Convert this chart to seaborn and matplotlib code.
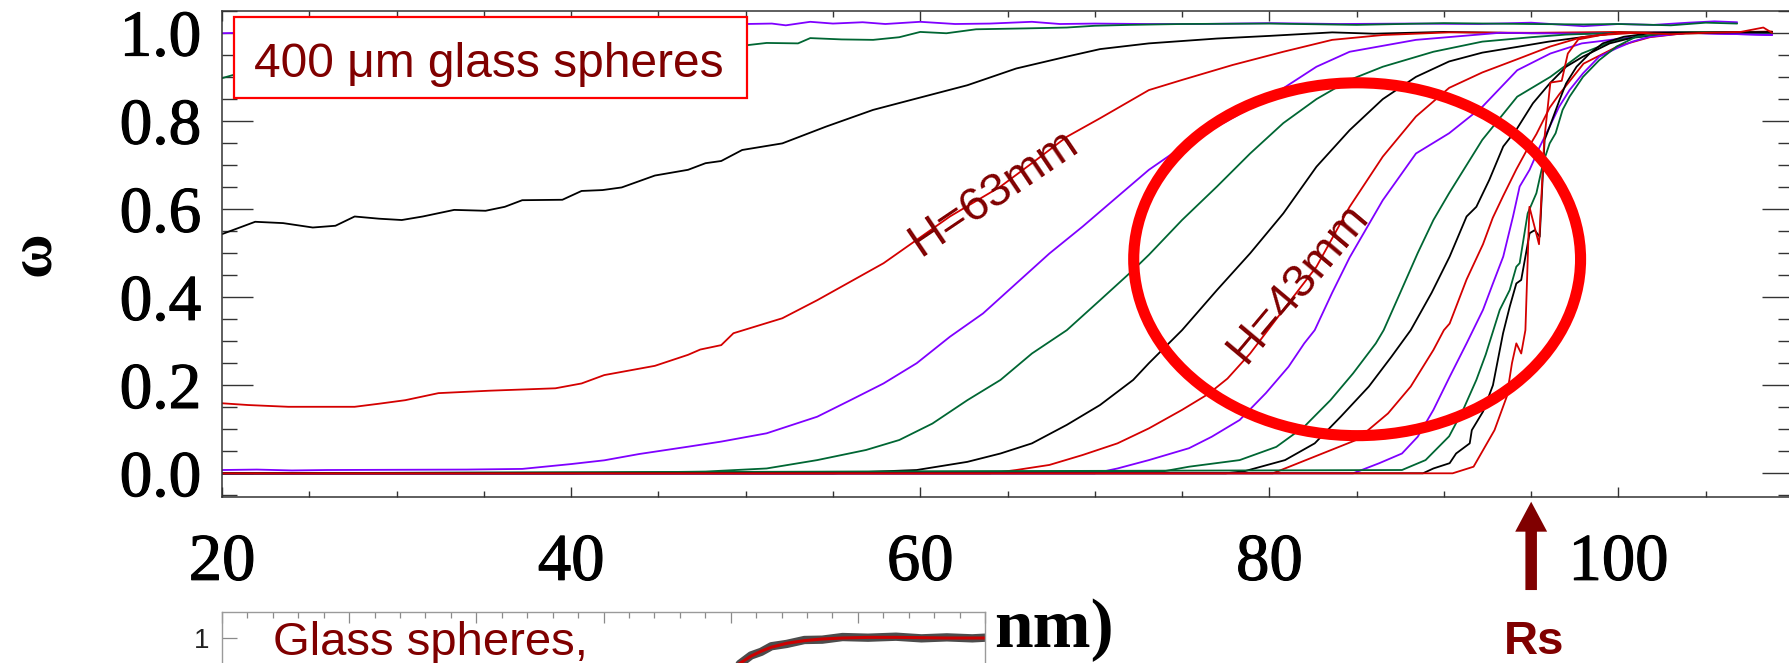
import matplotlib
matplotlib.use("Agg")
import matplotlib.pyplot as plt
import matplotlib.patheffects as pe
import pandas as pd
import seaborn as sns
from matplotlib.patches import Ellipse, Rectangle
from matplotlib.ticker import FixedLocator, MultipleLocator, FormatStrFormatter

# ------------------------------------------------------------------
# Profiles omega(r) for successive fill heights (r in nm-scale units)
# ------------------------------------------------------------------
curve_01_r = [20, 21, 25, 30, 35, 40, 45, 50, 51.5, 52.3, 53.7, 55, 56.7, 58, 60, 62, 64, 66.4, 68, 70,
              73, 76, 80, 84, 88, 92, 95, 98, 100, 102, 104, 105.5, 106.8]
curve_01_w = [0.999, 1.0, 1.005, 1.01, 1.013, 1.016, 1.018, 1.02, 1.021, 1.017, 1.025, 1.021, 1.024, 1.02,
              1.025, 1.02, 1.021, 1.025, 1.02, 1.021, 1.02, 1.02, 1.022, 1.02, 1.021, 1.02, 1.023, 1.015,
              1.02, 1.018, 1.023, 1.026, 1.024]

curve_02_r = [20, 20.7, 25, 30, 35, 40, 45, 50.1, 51.2, 53, 53.7, 55.5, 57.3, 58.8, 60, 61.5, 63.2, 66,
              68.4, 70, 72, 75, 80, 85, 90, 95, 98, 100, 103, 105, 106.8]
curve_02_w = [0.897, 0.905, 0.925, 0.94, 0.95, 0.958, 0.965, 0.972, 0.977, 0.976, 0.988, 0.985, 0.984,
              0.99, 1.002, 0.999, 1.008, 1.01, 1.012, 1.016, 1.018, 1.02, 1.021, 1.018, 1.022, 1.02,
              1.019, 1.02, 1.017, 1.023, 1.021]

curve_03_r = [20, 21.9, 23.5, 25.2, 26.5, 27.6, 29, 30.3, 31.5, 33.3, 35.1, 36.2, 37.2, 39.5, 40.6, 41.8,
              42.9, 44.8, 46.7, 47.7, 48.6, 49.8, 52.1, 54.6, 57.3, 59.8, 62.7, 65.5, 68.4, 70.3, 73.1,
              77.0, 80, 83.6, 86, 90, 95, 100, 104, 108.8]
curve_03_w = [0.543, 0.571, 0.568, 0.558, 0.562, 0.583, 0.578, 0.575, 0.583, 0.598, 0.596, 0.605, 0.620,
              0.621, 0.641, 0.643, 0.649, 0.676, 0.689, 0.704, 0.709, 0.734, 0.749, 0.787, 0.825, 0.851,
              0.881, 0.919, 0.946, 0.963, 0.976, 0.987, 0.993, 1.001, 0.998, 1.002, 0.999, 1.0, 1.001, 1.0]

curve_04_r = [20, 21.5, 23.8, 27.6, 29, 30.5, 32.4, 35.3, 39.1, 40.6, 41.9, 44.8, 46.7, 47.4, 48.6, 49.3,
              52.1, 54.1, 56.0, 57.9, 59.8, 61.7, 64.6, 66.4, 68.4, 70.3, 73.1, 75.0, 77.9, 80.8, 83.6,
              86.5, 90.3, 95, 100, 104, 108.8]
curve_04_w = [0.159, 0.155, 0.151, 0.151, 0.158, 0.166, 0.182, 0.1875, 0.193, 0.204, 0.223, 0.244, 0.269,
              0.281, 0.291, 0.318, 0.352, 0.393, 0.435, 0.477, 0.530, 0.583, 0.651, 0.704, 0.764, 0.806,
              0.870, 0.893, 0.927, 0.957, 0.984, 0.995, 1.001, 1.0, 1.002, 0.999, 1.0]

curve_05_r = [20, 22, 24, 26, 30, 34, 37.2, 40.0, 41.9, 43.9, 46.7, 48.6, 51.2, 54.1, 56.0, 57.9, 59.8,
              61.7, 63.6, 65.5, 67.4, 69.3, 71.3, 73.1, 75.0, 77.0, 79.9, 82.7, 84.6, 88.4, 93.2, 98,
              103, 108.8]
curve_05_w = [0.0075, 0.0085, 0.0065, 0.0075, 0.008, 0.0085, 0.01, 0.021, 0.0295, 0.0438, 0.0604, 0.072,
              0.0908, 0.1285, 0.166, 0.204, 0.250, 0.310, 0.363, 0.431, 0.499, 0.560, 0.628, 0.689,
              0.741, 0.787, 0.851, 0.923, 0.957, 0.984, 1.0, 0.998, 1.001, 0.995]

curve_06_r = [20, 40, 47.7, 51.2, 54.1, 56.9, 58.8, 60.7, 62.7, 64.6, 66.4, 68.4, 70.3, 72.2, 73.1, 75.0,
              77.0, 78.9, 80.8, 82.7, 84.6, 86.5, 89.4, 92.2, 95, 97, 100, 104, 108.8]
curve_06_w = [0.0, 0.0, 0.004, 0.011, 0.030, 0.053, 0.0756, 0.113, 0.166, 0.212, 0.272, 0.325, 0.393,
              0.4616, 0.496, 0.575, 0.651, 0.726, 0.795, 0.8495, 0.893, 0.923, 0.957, 0.980, 0.99, 0.996,
              1.0, 1.001, 0.998]

curve_07_r = [20, 55, 59.8, 62.7, 64.6, 66.4, 68.4, 70.3, 72.2, 73.1, 75.0, 77.0, 78.9, 80.8, 82.7, 84.6,
              86.5, 88.4, 90.3, 92.2, 94.2, 96, 97.9, 100, 104, 108.8]
curve_07_w = [0.0, 0.0, 0.0075, 0.026, 0.045, 0.068, 0.110, 0.155, 0.212, 0.250, 0.325, 0.416, 0.4994,
              0.590, 0.696, 0.779, 0.8495, 0.900, 0.935, 0.955, 0.968, 0.98, 0.99, 1.0, 0.999, 1.0]

curve_08_r = [20, 64, 65.5, 67.4, 69.3, 71.3, 73.1, 75.0, 76.5, 77.6, 78.9, 80.8, 82.7, 84.6, 86.5, 88.4,
              90.3, 92.2, 94.2, 96.1, 97.9, 100, 104, 108.8]
curve_08_w = [0.0, 0.0, 0.0075, 0.019, 0.0415, 0.068, 0.102, 0.144, 0.18, 0.215, 0.272, 0.371, 0.469,
              0.605, 0.719, 0.810, 0.875, 0.91, 0.94, 0.969, 0.99, 1.0, 1.0, 1.002]

curve_09_r = [20, 70, 71.3, 73.1, 75.4, 76.7, 78.3, 79.8, 81.1, 82.0, 82.6, 83.6, 84.6, 86.5, 88.4, 90.3,
              92.2, 94.2, 96.1, 97.9, 100.8, 104, 108.8]
curve_09_w = [0.0, 0.0, 0.011, 0.030, 0.057, 0.083, 0.121, 0.182, 0.242, 0.295, 0.325, 0.41, 0.49, 0.62,
              0.726, 0.772, 0.832, 0.915, 0.953, 0.976, 0.99, 1.0, 0.995]

curve_10_r = [20, 74, 75.4, 78.3, 80.4, 82.0, 83.5, 84.8, 86.1, 86.55, 87.5, 88.5, 89.4, 90.3, 92.2, 94.2,
              96.1, 97.9, 99.8, 103, 108.8]
curve_10_w = [0.0, 0.005, 0.015, 0.03, 0.06, 0.106, 0.166, 0.227, 0.295, 0.325, 0.41, 0.5, 0.575, 0.636,
              0.757, 0.855, 0.90, 0.953, 0.983, 1.0, 1.0]

curve_11_r = [20, 77.5, 78.6, 80.9, 82.6, 84.1, 85.7, 87.0, 88.1, 89.3, 90.33, 91.3, 91.86, 92.6, 93.4,
              94.15, 95.1, 96.06, 97.0, 97.97, 99.5, 101, 104, 108.8]
curve_11_w = [0.0, 0.0, 0.005, 0.03, 0.068, 0.129, 0.197, 0.265, 0.325, 0.41, 0.492, 0.583, 0.605, 0.666,
              0.742, 0.780, 0.84, 0.885, 0.923, 0.946, 0.976, 0.991, 1.0, 1.0]

curve_12_r = [20, 80.2, 82.6, 85.0, 86.8, 88.1, 89.4, 90.0, 90.33, 91.3, 92.24, 92.8, 93.4, 94.15, 94.7,
              95.3, 96.06, 96.6, 97.4, 98, 99, 100, 101.8, 104, 108.8]
curve_12_w = [0.0, 0.0, 0.038, 0.076, 0.136, 0.197, 0.28, 0.325, 0.34, 0.44, 0.52, 0.58, 0.63, 0.69,
              0.73, 0.77, 0.83, 0.86, 0.90, 0.93, 0.95, 0.97, 0.99, 1.0, 1.003]

curve_13_r = [20, 84.8, 86.3, 87.6, 88.5, 89.4, 90.33, 91.3, 92.24, 92.81, 93.4, 93.96, 94.34, 94.91,
              95.5, 96.06, 96.6, 97.2, 97.97, 98.9, 99.9, 100.8, 101.8, 104, 108.8]
curve_13_w = [0.0, 0.0, 0.023, 0.045, 0.083, 0.144, 0.219, 0.295, 0.371, 0.431, 0.492, 0.583, 0.651,
              0.689, 0.742, 0.787, 0.832, 0.870, 0.908, 0.946, 0.965, 0.98, 0.991, 1.0, 0.996]

curve_14_r = [20, 87.6, 88.95, 90.3, 91.1, 91.86, 92.4, 93.2, 93.77, 94.15, 94.34, 94.8, 95.3, 95.68,
              96.06, 96.4, 96.8, 97.2, 97.97, 98.9, 99.9, 101.0, 103, 106, 108.8]
curve_14_w = [0.0, 0.0075, 0.030, 0.084, 0.144, 0.212, 0.27, 0.371, 0.416, 0.469, 0.477, 0.59, 0.636,
              0.704, 0.749, 0.772, 0.825, 0.855, 0.90, 0.938, 0.969, 0.991, 1.0, 1.002, 1.0]

curve_15_r = [20, 88.8, 89.4, 90.33, 90.7, 91.48, 91.6, 92.24, 92.81, 93.39, 93.77, 94.15, 94.43, 94.91,
              95.2, 95.49, 95.77, 96.06, 96.63, 97.0, 97.6, 98.35, 99.1, 100.3, 102, 105, 108.8]
curve_15_w = [0.0, 0.0, 0.011, 0.023, 0.045, 0.068, 0.098, 0.14, 0.2, 0.318, 0.378, 0.431, 0.439, 0.545,
              0.552, 0.537, 0.757, 0.787, 0.848, 0.885, 0.923, 0.953, 0.976, 0.991, 1.0, 1.0, 1.002]

curve_16_r = [20, 90.5, 91.7, 92.9, 93.6, 93.9, 94.15, 94.43, 94.67, 94.9, 95.45, 95.75, 96.1, 96.75,
              97.1, 97.7, 99, 101, 103, 105, 107, 108.3, 108.8]
curve_16_w = [0.0, 0.0, 0.015, 0.098, 0.174, 0.25, 0.295, 0.272, 0.325, 0.605, 0.52, 0.757, 0.887, 0.891,
              0.953, 0.985, 0.995, 1.0, 0.997, 1.0, 1.002, 1.012, 1.0]

# inset: measured profile and its fit (inset x in its own units)
inset_r = [20.3, 20.8, 21.2, 21.6, 22.2, 22.9, 23.6, 24.4, 25.4, 26.5, 27.5, 28.5, 29.5, 30.0]
inset_meas = [0.918, 0.947, 0.958, 0.975, 0.982, 0.994, 0.995, 1.003, 1.001, 1.004, 0.999, 1.002, 0.999, 1.001]
inset_fit = [0.92, 0.945, 0.96, 0.972, 0.984, 0.992, 0.997, 1.0, 1.002, 1.002, 1.001, 1.0, 1.0, 1.0]

# axis ticks
x_major = [20, 40, 60, 80, 100]
y_major = [0.0, 0.2, 0.4, 0.6, 0.8, 1.0]

PURPLE = "#7f00ff"
GREEN = "#006633"
BLACK = "#000000"
RED = "#d40000"
MAROON = "#800000"
BRIGHT = "#ff0000"

curve_list = [
    ("c01", curve_01_r, curve_01_w, PURPLE), ("c02", curve_02_r, curve_02_w, GREEN),
    ("c03", curve_03_r, curve_03_w, BLACK), ("c04", curve_04_r, curve_04_w, RED),
    ("c05", curve_05_r, curve_05_w, PURPLE), ("c06", curve_06_r, curve_06_w, GREEN),
    ("c07", curve_07_r, curve_07_w, BLACK), ("c08", curve_08_r, curve_08_w, RED),
    ("c09", curve_09_r, curve_09_w, PURPLE), ("c10", curve_10_r, curve_10_w, GREEN),
    ("c11", curve_11_r, curve_11_w, BLACK), ("c12", curve_12_r, curve_12_w, RED),
    ("c13", curve_13_r, curve_13_w, PURPLE), ("c14", curve_14_r, curve_14_w, GREEN),
    ("c15", curve_15_r, curve_15_w, BLACK), ("c16", curve_16_r, curve_16_w, RED),
]

df = pd.concat(
    [pd.DataFrame({"r": r, "omega": w, "curve": name}) for name, r, w, _ in curve_list],
    ignore_index=True,
)
palette = {name: c for name, _, _, c in curve_list}

sns.set_theme(style="ticks")
plt.rcParams["font.family"] = ["Liberation Serif", "DejaVu Serif"]
plt.rcParams["text.color"] = "black"
plt.rcParams["axes.labelcolor"] = "black"

W, H = 1789, 663
fig = plt.figure(figsize=(W / 100, H / 100), dpi=100)
fig.patch.set_facecolor("white")

# main axes (pixel geometry of the frame)
ax_l, ax_r, ax_t, ax_b = 222, 1793, 10.7, 496.7
ax = fig.add_axes([ax_l / W, 1 - ax_b / H, (ax_r - ax_l) / W, (ax_b - ax_t) / H])

sns.lineplot(data=df, x="r", y="omega", hue="curve", palette=palette, estimator=None,
             sort=False, legend=False, linewidth=1.3, ax=ax)

ax.set_xlim(20, 110)
ax.set_ylim(-0.0531, 1.0502)
ax.set_xlabel("")
ax.xaxis.set_major_locator(FixedLocator(x_major))
ax.xaxis.set_minor_locator(MultipleLocator(5))
ax.yaxis.set_major_locator(FixedLocator(y_major))
ax.yaxis.set_minor_locator(MultipleLocator(0.05))
ax.yaxis.set_major_formatter(FormatStrFormatter("%.1f"))

for side in ["left", "right", "top", "bottom"]:
    ax.spines[side].set_visible(True)
    ax.spines[side].set_color("#333333")
    ax.spines[side].set_linewidth(1.1)

ax.tick_params(axis="both", which="both", direction="in", top=True, right=True,
               color="#333333", width=1.0, labelcolor="black")
ax.tick_params(axis="y", which="major", length=22, pad=15, labelsize=47)
ax.tick_params(axis="y", which="minor", length=11)
ax.tick_params(axis="x", which="major", length=7, pad=26, labelsize=48)
ax.tick_params(axis="x", which="minor", length=4)
# slightly heavier Roman digits
heavy = [pe.withStroke(linewidth=0.8, foreground="black")]
for lbl in ax.get_xticklabels() + ax.get_yticklabels():
    lbl.set_path_effects(heavy)

ax.set_ylabel("ω", fontsize=44, fontweight="bold", rotation=90, va="center", color="black")
ax.yaxis.set_label_coords((34 - ax_l) / (ax_r - ax_l), 0.5)

# title box
ax.add_patch(Rectangle((0.00764, 0.8210), 0.3266, 0.1654, transform=ax.transAxes,
                       facecolor="white", edgecolor=BRIGHT, linewidth=1.6, zorder=5))
ax.text(0.170, 0.8642, "400 μm glass spheres", transform=ax.transAxes, ha="center",
        va="baseline", fontsize=34.5, color=MAROON, family="Liberation Sans", zorder=6)

# curve labels
ax.text(64.18, 0.636, "H=63mm", rotation=34, rotation_mode="anchor", ha="center", va="center",
        fontsize=34, color=MAROON, family="Liberation Sans", zorder=6)
ax.text(81.64, 0.431, "H=43mm", rotation=50, rotation_mode="anchor", ha="center", va="center",
        fontsize=34, color=MAROON, family="Liberation Sans", zorder=6)

# highlight ring
ax.add_patch(Ellipse((85.03, 0.486), width=25.6, height=0.801, fill=False,
                     edgecolor=BRIGHT, linewidth=8, zorder=7))

# Rs marker arrow below the axis
ax.arrow(95, -0.265, 0, 0.2005, width=0.66, head_width=1.83, head_length=0.068,
         length_includes_head=True, facecolor=MAROON, edgecolor="none", clip_on=False, zorder=8)
fig.text(1534 / W, 1 - 654 / H, "Rs", ha="center", va="baseline", fontsize=34,
         fontweight="bold", color=MAROON, family="Liberation Sans")

# axis unit text next to the inset
fig.text(994 / W, 1 - 647 / H, "nm)", ha="left", va="baseline", fontsize=50,
         fontweight="bold", color="black", family="Liberation Serif")

# inset panel (extends below the figure edge)
in_l, in_r, in_t, in_b = 222, 985, 611.7, 967
ins = fig.add_axes([in_l / W, 1 - in_b / H, (in_r - in_l) / W, (in_b - in_t) / H], zorder=10)
ins.set_facecolor("white")
sns.lineplot(x=inset_r, y=inset_meas, ax=ins, color="black", linewidth=6, alpha=0.7)
sns.lineplot(x=inset_r, y=inset_fit, ax=ins, color="#cc0000", linewidth=2.2)
ins.set_xlim(0, 30)
ins.set_ylim(0, 1.08)
ins.set_xlabel("")
ins.set_ylabel("")
ins.xaxis.set_major_locator(MultipleLocator(5))
ins.xaxis.set_minor_locator(MultipleLocator(1))
ins.set_yticks([1])
ins.set_yticklabels(["1"])
for side in ["left", "right", "top", "bottom"]:
    ins.spines[side].set_visible(True)
    ins.spines[side].set_color("#9a9a9a")
    ins.spines[side].set_linewidth(1.0)
ins.tick_params(axis="x", which="both", direction="in", top=True, bottom=True,
                labelbottom=False, color="#8a8a8a", width=0.9)
ins.tick_params(axis="x", which="major", length=8)
ins.tick_params(axis="x", which="minor", length=4)
ins.tick_params(axis="y", which="major", direction="in", length=11, width=0.9, pad=9,
                labelsize=20, color="#8a8a8a", labelcolor="#222222")
for lbl in ins.get_yticklabels():
    lbl.set_family("Liberation Sans")
ins.text(2.0, 0.948, "Glass spheres,", ha="left", va="baseline", fontsize=34,
         color=MAROON, family="Liberation Sans")

fig.savefig("out.png", dpi=100, facecolor="white")
